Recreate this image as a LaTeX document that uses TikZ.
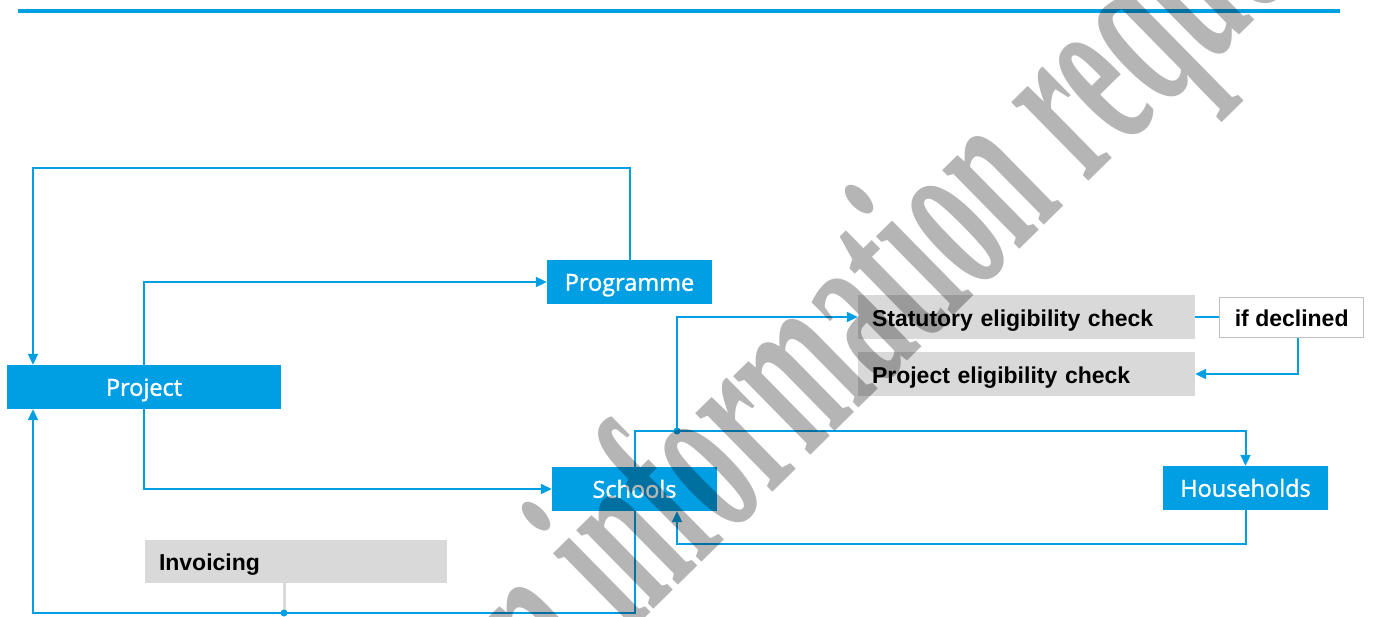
\documentclass[tikz,border=0pt]{standalone}
\usepackage{fontspec}
\setmainfont{Liberation Sans}
\newfontfamily\boxfont{Open Sans}[FakeBold=1.4]
\newfontfamily\stampfont{Liberation Serif}[FakeStretch=0.5]
\usetikzlibrary{arrows.meta}
\definecolor{ribbon}{HTML}{009FE3}
\definecolor{panel}{HTML}{D9D9D9}
\definecolor{rim}{HTML}{BFBFBF}

\begin{document}
\begin{tikzpicture}[x=1pt,y=-1pt,
  bluebox/.style={fill=ribbon, text=white, inner sep=0pt, minimum width=165pt,
    minimum height=44pt, font=\boxfont\fontsize{23.5}{28}\selectfont,
    text height=17.5pt, text depth=0pt},
  greybox/.style={fill=panel, text=black, inner xsep=14pt, inner ysep=0pt,
    minimum height=44pt, align=left, font=\bfseries\fontsize{23}{28}\selectfont,
    text height=18.5pt, text depth=0pt},
  notebox/.style={fill=white, draw=rim, line width=1.5pt, inner sep=0pt,
    minimum width=144pt, minimum height=40pt, font=\bfseries\fontsize{23}{28}\selectfont,
    text height=18.5pt, text depth=0pt},
  link/.style={draw=ribbon, line width=2pt},
  arr/.style={link, -{Triangle[length=11pt,width=10pt]}},
  joint/.style={fill=ribbon, circle, inner sep=0pt, minimum size=7pt},
  stamp/.style={inner sep=0pt, text=black, text opacity=0.29,
    font=\stampfont\bfseries\fontsize{240}{240}\selectfont},
]
\useasboundingbox (0,0) rectangle (1375,617);

% header rule
\coordinate (ruleL) at (18,11);
\coordinate (ruleR) at (1340,11);
\draw[ribbon, line width=3.7pt] (ruleL) -- (ruleR);

% boxes
\node[bluebox, minimum width=274pt] (project) at (144,387) {Project};
\node[bluebox] (programme) at (629.5,282) {Programme};
\node[bluebox] (schools) at (634.5,489) {Schools};
\node[bluebox] (households) at (1245.5,488) {Households};
\node[greybox, text width=309pt] (statutory) at (1026.5,317) {Statutory eligibility check};
\node[greybox, text width=309pt] (projcheck) at (1026.5,374) {Project eligibility check};
\node[notebox] (declined) at (1291.7,317.5) {if declined};
\node[greybox, text width=274pt, minimum height=43pt] (invoicing) at (296,561.5) {Invoicing};

% routing points
\coordinate (topleft) at (33,168);
\coordinate (hub) at (677,431);
\coordinate (base) at (33,613);
\coordinate (loop) at (677,544);
\coordinate (drop) at (1298,374);
\coordinate (tap) at (284,613);

% connectors
\draw[arr] (programme.north) |- (topleft) -- (topleft |- project.north);
\draw[arr] (project.north) |- (programme.west);
\draw[arr] (project.south) |- (schools.west);
\draw[arr] (schools.north) |- (hub) -| (households.north);
\draw[arr] (hub) |- (statutory.west);
\draw[arr] (schools.south) |- (base) -- (base |- project.south);
\draw[arr] (households.south) |- (loop) -- (loop |- schools.south);
\draw[link] (statutory.east) -- (statutory.east -| declined.west);
\draw[arr] (drop |- declined.south) |- (projcheck.east);
\draw[draw=panel, line width=3pt] (tap |- invoicing.south) -- (tap);
\node[joint] (tapdot) at (tap) {};
\node[joint] (hubdot) at (hub) {};

% diagonal stamp across the sheet
\begin{scope}
  \clip (0,0) rectangle (1375,617);
  \node[stamp, rotate=44.5, anchor=base west] (mark) at (628,635)
    {\llap{an }information request};
\end{scope}
\end{tikzpicture}
\end{document}
